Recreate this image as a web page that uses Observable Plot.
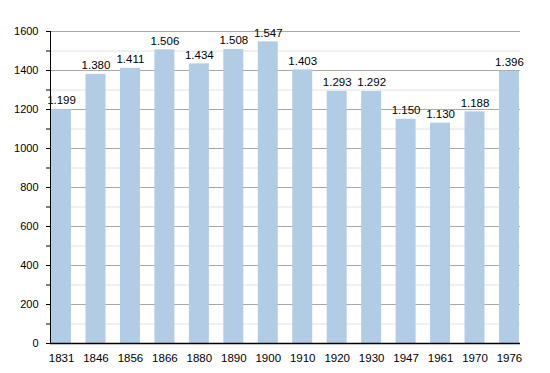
<!DOCTYPE html>
<html><head><meta charset="utf-8">
<script src="https://cdn.jsdelivr.net/npm/d3@7"></script>
<script src="https://cdn.jsdelivr.net/npm/@observablehq/plot@0.6"></script>
<style>body{margin:0;background:#fff;font-family:"Liberation Sans",Arial,sans-serif;}</style>
</head><body><div id="chart"></div>
<script>
const years = ["1831","1846","1856","1866","1880","1890","1900","1910","1920","1930","1947","1961","1970","1976"];
const population = [1199,1380,1411,1506,1434,1508,1547,1403,1293,1292,1150,1130,1188,1396];
const labels = ["1.199","1.380","1.411","1.506","1.434","1.508","1.547","1.403","1.293","1.292","1.150","1.130","1.188","1.396"];
const majorTicks = [0,200,400,600,800,1000,1200,1400,1600];
const minorTicks = [100,300,500,700,900,1100,1300,1500];

const data = years.map((y,i)=>({year:y, value:population[i], label:labels[i]}));

const chart = Plot.plot({
  width: 550, height: 373,
  marginLeft: 50, marginRight: 30, marginTop: 31, marginBottom: 30,
  style: {fontFamily: '"Liberation Sans", Arial, sans-serif', fontSize: "11px", color:"#000", background:"#fff"},
  x: {domain: years, paddingInner: 0.42, paddingOuter: 0.03, round: false, label: null},
  y: {domain: [0,1600], label: null},
  marks: [
    Plot.ruleY(minorTicks, {stroke:"#e2e2e2", strokeWidth:1}),
    Plot.ruleY(majorTicks.filter(d=>d>0), {stroke:"#a8a8a8", strokeWidth:1}),
    Plot.barY(data, {x:"year", y:"value", fill:"#b2cce6"}),
    Plot.text(data, {x:"year", y:"value", text:"label", dy:-9, fill:"#000", fontSize:11.5}),
    Plot.axisY(minorTicks, {tickSize:4, tickFormat:()=>"", tickPadding:0}),
    Plot.axisY(majorTicks, {tickSize:4, tickPadding:8, fontSize:11, tickFormat: d => String(d)}),
    Plot.axisX({tickSize:0, tickPadding:10, fontSize:11.5}),
    Plot.frame({anchor:"left", stroke:"#000"}),
    Plot.ruleY([0], {stroke:"#000", strokeWidth:1.5})
  ]
});
document.getElementById("chart").appendChild(chart);
</script></body></html>
